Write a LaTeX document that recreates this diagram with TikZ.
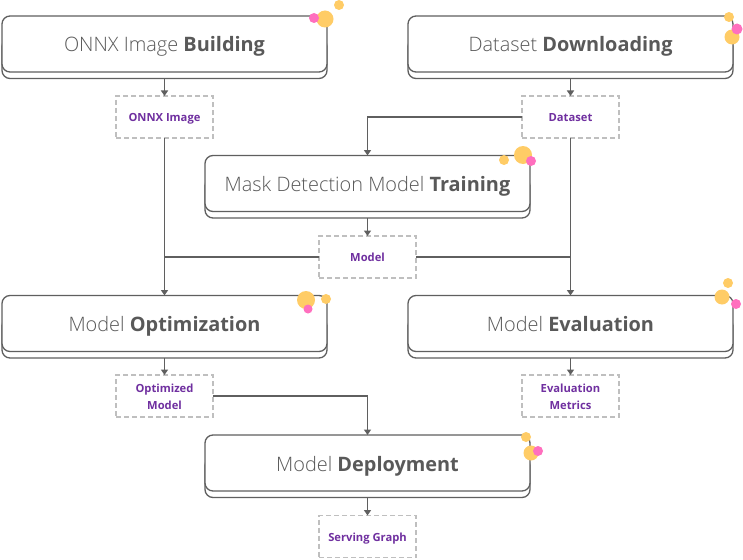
\documentclass[tikz,border=0pt]{standalone}
\usepackage{fontspec}
\setmainfont{Open Sans}
\newfontfamily\lightfont{Open Sans Light}
\usetikzlibrary{arrows.meta}
\definecolor{linegray}{HTML}{5F5F5F}
\definecolor{titlegray}{HTML}{595959}
\definecolor{dashgray}{HTML}{BFBFBF}
\definecolor{labelpurple}{HTML}{7030A0}
\definecolor{dotorange}{HTML}{FFCC66}
\definecolor{dotpink}{HTML}{FF6FBE}
\tikzset{
  stepfront/.style={draw=linegray,line width=1.3pt,fill=white,rounded corners=8pt,minimum width=325pt,minimum height=56pt,inner sep=0pt,outer sep=0pt,text=titlegray,text height=16pt,text depth=0pt,font=\fontsize{19.9}{24}\selectfont\lightfont},
  stepback/.style={draw=linegray,line width=1.3pt,fill=white,rounded corners=8pt,minimum width=325pt,minimum height=40pt,inner sep=0pt,outer sep=0pt},
  artifact/.style={draw=dashgray,line width=1.3pt,dash pattern=on 5pt off 3pt,fill=white,minimum width=97pt,minimum height=42pt,inner sep=0pt,outer sep=0pt,align=center,text=labelpurple,font=\fontsize{11.2}{16.5}\selectfont\bfseries},
  oneline/.style={text height=9.4pt,text depth=0pt},
  flow/.style={draw=linegray,line width=1.4pt},
  flowarrow/.style={flow,-{Triangle[width=7pt,length=5.5pt]}},
  dotbig/.style={circle,fill=dotorange,inner sep=0pt,minimum size=#1},
  dotpk/.style={circle,fill=dotpink,inner sep=0pt,minimum size=#1}
}
\newcommand{\heavy}[1]{{\normalfont\fontsize{19.9}{24}\selectfont\bfseries #1}}
\begin{document}
\begin{tikzpicture}[x=1pt,y=-1pt]
\useasboundingbox (0,0) rectangle (743,559);
% stacked step boxes
\node[stepback] (b1back) at (164.5,58.5) {};
\node[stepfront] (b1) at (164.5,44) {ONNX Image \heavy{Building}};
\node[stepback] (b2back) at (570.5,58.5) {};
\node[stepfront] (b2) at (570.5,44) {Dataset \heavy{Downloading}};
\node[stepback] (b3back) at (367.5,198) {};
\node[stepfront] (b3) at (367.5,183.5) {Mask Detection Model \heavy{Training}};
\node[stepback] (b4back) at (164.5,338) {};
\node[stepfront] (b4) at (164.5,323.5) {Model \heavy{Optimization}};
\node[stepback] (b5back) at (570.5,338) {};
\node[stepfront] (b5) at (570.5,323.5) {Model \heavy{Evaluation}};
\node[stepback] (b6back) at (367.5,477.5) {};
\node[stepfront] (b6) at (367.5,463) {Model \heavy{Deployment}};
% artifacts
\node[artifact,oneline] (d1) at (164.5,117) {ONNX Image};
\node[artifact,oneline] (d2) at (570.5,117) {Dataset};
\node[artifact,oneline] (d3) at (367.5,257) {Model};
\node[artifact] (d4) at (164.5,396) {\rule{0pt}{10.5pt}Optimized\\Model};
\node[artifact] (d5) at (570.5,396) {\rule{0pt}{10.5pt}Evaluation\\Metrics};
\node[artifact,oneline] (d6) at (367.5,536.5) {Serving Graph};
% connectors
\draw[flowarrow] (b1back.south) -- (d1.north);
\draw[flowarrow] (b2back.south) -- (d2.north);
\draw[flowarrow] (b3back.south) -- (d3.north);
\draw[flowarrow] (b4back.south) -- (d4.north);
\draw[flowarrow] (b5back.south) -- (d5.north);
\draw[flowarrow] (b6back.south) -- (d6.north);
\draw[flowarrow] (d1.south) -- (b4.north);
\draw[flowarrow] (d2.south) -- (b5.north);
\draw[flowarrow] (d2.west) -| (b3.north);
\draw[flowarrow] (d4.east) -| (b6.north);
\draw[flow] (d3.west) -- (d3.west -| d1.south);
\draw[flow] (d3.east) -- (d3.east -| d2.south);
% decorative dots
\node[dotbig=17pt] (o1a) at (325,19) {};
\node[dotpk=10pt] (p1) at (314,18) {};
\node[dotbig=10pt] (o1b) at (339,5) {};
\node[dotbig=15pt] (o2a) at (732,37) {};
\node[dotbig=10pt] (o2b) at (729,17) {};
\node[dotpk=11pt] (p2) at (737,29) {};
\node[dotbig=10pt] (o3b) at (504,160) {};
\node[dotbig=18pt] (o3a) at (523,155) {};
\node[dotpk=10pt] (p3) at (531,161) {};
\node[dotbig=18pt] (o4a) at (306,300) {};
\node[dotpk=9pt] (p4) at (308,309) {};
\node[dotbig=10pt] (o4b) at (326,299) {};
\node[dotbig=10pt] (o5b) at (728,283) {};
\node[dotbig=15pt] (o5a) at (722,297) {};
\node[dotpk=10pt] (p5) at (736,304) {};
\node[dotbig=10pt] (o6b) at (526,437) {};
\node[dotbig=15pt] (o6a) at (531,453) {};
\node[dotpk=10pt] (p6) at (538,451) {};
\end{tikzpicture}
\end{document}
